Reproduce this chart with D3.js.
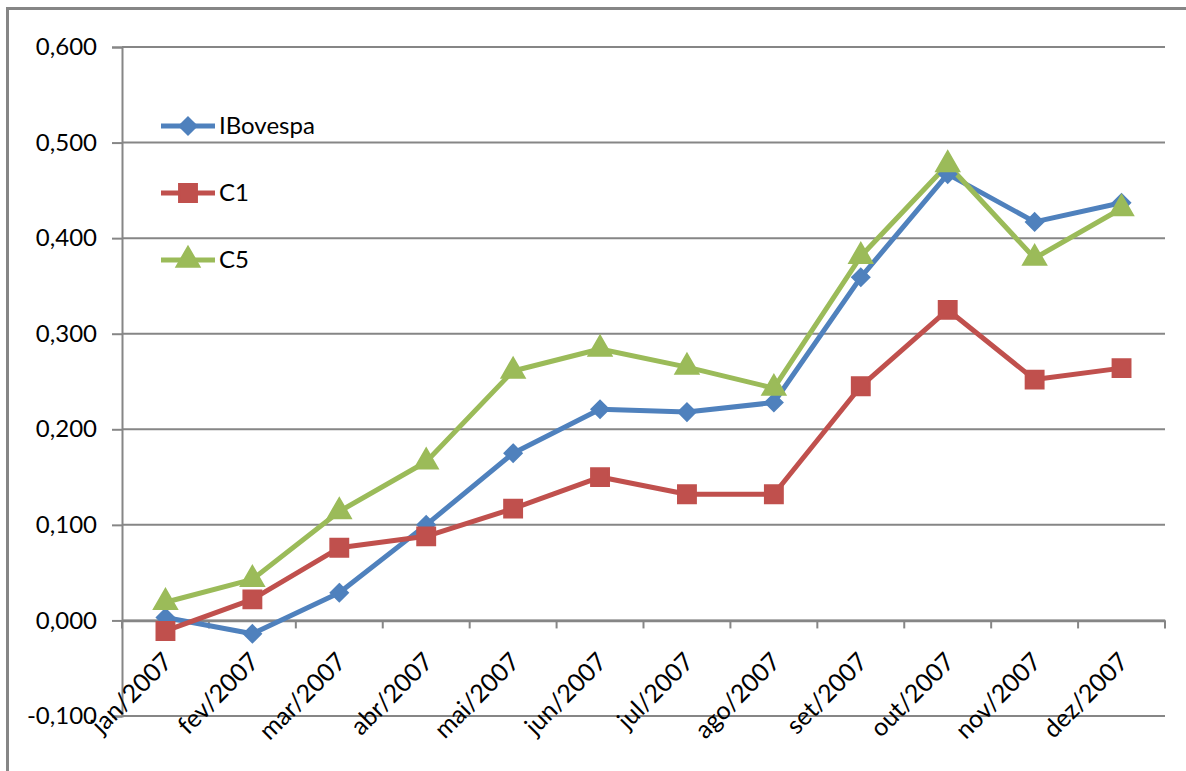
<!DOCTYPE html>
<html>
<head>
<meta charset="utf-8">
<script src="https://cdn.jsdelivr.net/npm/d3@7"></script>
<style>
  body { margin: 0; background: #fff; }
  svg { display: block; }
</style>
</head>
<body>
<div id="chart"></div>
<script>
const width = 1186;
const height = 771;

// data
const months = ['jan/2007', 'fev/2007', 'mar/2007', 'abr/2007', 'mai/2007', 'jun/2007',
    'jul/2007', 'ago/2007', 'set/2007', 'out/2007', 'nov/2007', 'dez/2007'];
const ibovespa = [0.003, -0.014, 0.029, 0.100, 0.175, 0.221, 0.218, 0.228, 0.359, 0.467, 0.417, 0.437];
const c1 = [-0.011, 0.022, 0.076, 0.088, 0.117, 0.150, 0.132, 0.132, 0.245, 0.325, 0.252, 0.264];
const c5 = [0.019, 0.043, 0.114, 0.166, 0.261, 0.284, 0.265, 0.243, 0.381, 0.477, 0.379, 0.431];
const yTicks = [-0.1, 0, 0.1, 0.2, 0.3, 0.4, 0.5, 0.6];

const series = [
    { name: 'IBovespa', values: ibovespa, color: '#4F81BD', symbol: d3.symbolDiamond2, size: 190 },
    { name: 'C1', values: c1, color: '#C0504D', symbol: d3.symbolSquare, size: 320 },
    { name: 'C5', values: c5, color: '#9BBB59', symbol: d3.symbolTriangle, size: 230 }
];

const gridColor = '#868686';
const font = 'Lato, Calibri, sans-serif';

const svg = d3.select('#chart')
    .append('svg')
    .attr('width', width)
    .attr('height', height);

// outer frame (only top and left edges fall inside the picture)
svg.append('rect')
    .attr('x', 7.5)
    .attr('y', 8.5)
    .attr('width', 1300)
    .attr('height', 900)
    .attr('fill', 'none')
    .attr('stroke', gridColor)
    .attr('stroke-width', 3);

const x = d3.scaleBand()
    .domain(months)
    .range([122, 1165]);

const y = d3.scaleLinear()
    .domain([-0.1, 0.6])
    .range([716, 47]);

const locale = d3.formatLocale({ decimal: ',', thousands: '.', grouping: [3], currency: ['', ''], minus: '-' });
const fmt = locale.format('.3f');

// horizontal gridlines
svg.append('g')
    .selectAll('line')
    .data(yTicks)
    .enter()
    .append('line')
    .attr('x1', 122)
    .attr('x2', 1165)
    .attr('y1', d => y(d))
    .attr('y2', d => y(d))
    .attr('stroke', gridColor)
    .attr('stroke-width', 2);

// y axis
const yAxis = d3.axisLeft(y)
    .tickValues(yTicks)
    .tickFormat(fmt)
    .tickSize(10)
    .tickPadding(15);

const yg = svg.append('g')
    .attr('transform', 'translate(122, 0)')
    .call(yAxis);
yg.select('.domain').attr('stroke', gridColor).attr('stroke-width', 2);
yg.selectAll('.tick line').attr('stroke', gridColor).attr('stroke-width', 2);
yg.selectAll('.tick text')
    .attr('fill', '#000')
    .style('font-family', font)
    .style('font-size', '24px');

// x axis sits on zero
const xAxis = d3.axisBottom(x)
    .tickSize(0)
    .tickFormat('');
const xg = svg.append('g')
    .attr('transform', `translate(0, ${y(0)})`)
    .call(xAxis);
xg.select('.domain').attr('stroke', gridColor).attr('stroke-width', 2.5);

// category boundary ticks
const bounds = months.map(m => x(m)).concat([x.range()[1]]);
svg.append('g')
    .selectAll('line')
    .data(bounds)
    .enter()
    .append('line')
    .attr('x1', d => d)
    .attr('x2', d => d)
    .attr('y1', y(0))
    .attr('y2', y(0) + 8)
    .attr('stroke', gridColor)
    .attr('stroke-width', 2);

// rotated category labels below the plot
svg.append('g')
    .selectAll('text')
    .data(months)
    .enter()
    .append('text')
    .attr('transform', d => `translate(${x(d) + x.bandwidth() / 2 + 2}, 657) rotate(-45)`)
    .attr('text-anchor', 'end')
    .attr('dy', '0.35em')
    .style('font-family', font)
    .style('font-size', '25px')
    .text(d => d);

// lines and markers
const line = d3.line()
    .x((d, i) => x(months[i]) + x.bandwidth() / 2)
    .y(d => y(d));

series.forEach(s => {
    svg.append('path')
        .datum(s.values)
        .attr('d', line)
        .attr('fill', 'none')
        .attr('stroke', s.color)
        .attr('stroke-width', 5)
        .attr('stroke-linejoin', 'round');
});

series.forEach(s => {
    svg.append('g')
        .selectAll('path')
        .data(s.values)
        .enter()
        .append('path')
        .attr('d', d3.symbol().type(s.symbol).size(s.size))
        .attr('transform', (d, i) => `translate(${x(months[i]) + x.bandwidth() / 2}, ${y(d)})`)
        .attr('fill', s.color)
        .attr('stroke', s.color)
        .attr('stroke-width', 2);
});

// legend
const legend = svg.append('g');
const legendY = [126, 193, 260];
series.forEach((s, i) => {
    const g = legend.append('g').attr('transform', `translate(0, ${legendY[i]})`);
    g.append('line')
        .attr('x1', 161)
        .attr('x2', 215)
        .attr('stroke', s.color)
        .attr('stroke-width', 5);
    g.append('path')
        .attr('d', d3.symbol().type(s.symbol).size(s.size))
        .attr('transform', 'translate(188, 0)')
        .attr('fill', s.color)
        .attr('stroke', s.color)
        .attr('stroke-width', 2);
    g.append('text')
        .attr('x', 219)
        .attr('dy', '0.35em')
        .style('font-family', font)
        .style('font-size', '24px')
        .text(s.name);
});
</script>
</body>
</html>
